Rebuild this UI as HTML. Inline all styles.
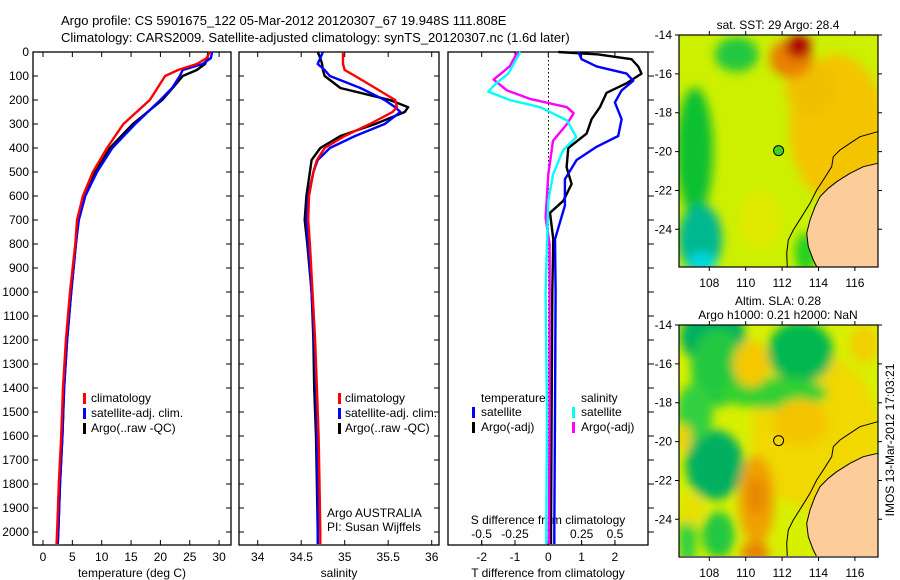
<!DOCTYPE html>
<html><head><meta charset="utf-8">
<style>
html,body{margin:0;padding:0;background:#fff;}
svg{display:block;font-family:"Liberation Sans",Arial,sans-serif;}
text{font-size:12px;fill:#000;}
</style></head>
<body>
<svg id="fig" width="900" height="580" viewBox="0 0 900 580" xmlns="http://www.w3.org/2000/svg">
<defs>
<filter id="blur1" x="-50%" y="-50%" width="200%" height="200%"><feGaussianBlur stdDeviation="5"/></filter>
<clipPath id="clipTop"><rect x="679" y="35" width="199" height="232"/></clipPath>
<clipPath id="clipBot"><rect x="679" y="325" width="199" height="231"/></clipPath>
</defs>
<text x="61" y="25" style="font-size:13px">Argo profile: CS 5901675_122 05-Mar-2012 20120307_67 19.948S 111.808E</text>
<text x="61" y="42" style="font-size:13px">Climatology: CARS2009. Satellite-adjusted climatology: synTS_20120307.nc (1.6d later)</text>
<g id="plots"></g>
<g id="maps"></g>
<text transform="translate(894,440) rotate(-90)" text-anchor="middle">IMOS 13-Mar-2012 17:03:21</text>
</svg>
<script>
// ---------- data ----------
const depthTicks = [0,100,200,300,400,500,600,700,800,900,1000,1100,1200,1300,1400,1500,1600,1700,1800,1900,2000];
const tempTicks = [0,5,10,15,20,25,30];
const salTicks = [34,34.5,35,35.5,36];
const salTickLabels = ["34","34.5","35","35.5","36"];
const tdTicks = [-2,-1,0,1,2];
const sdTicks = [-0.5,-0.25,0,0.25,0.5];
const sdTickLabels = ["-0.5","-0.25","0","0.25","0.5"];

const tDepth = [0,25,50,75,100,150,200,300,400,500,600,700,800,1000,1200,1400,1600,1800,2000,2050];
const tClim  = [28.4,27.9,26.2,23.0,20.8,19.5,18.2,13.7,10.9,8.5,6.8,5.8,5.5,4.6,3.9,3.4,3.1,2.7,2.4,2.3];
const tSat   = [28.8,28.6,27.2,23.8,23.3,22.0,20.0,15.7,11.8,9.2,7.2,6.1,5.6,4.8,4.1,3.6,3.3,2.9,2.6,2.5];
const tArgo  = [28.2,28.0,27.6,26.2,23.8,22.1,20.3,15.3,11.4,8.9,7.0,6.0,5.6,4.8,4.1,3.6,3.3,2.9,2.6,2.5];

const sDepth = [0,25,50,75,100,150,200,230,250,300,350,400,450,500,600,700,800,1000,1200,1400,1600,1800,2000,2050];
const sClim  = [34.98,34.98,34.98,35.0,35.12,35.35,35.58,35.6,35.55,35.29,35.0,34.77,34.68,34.64,34.59,34.58,34.6,34.63,34.66,34.68,34.7,34.71,34.72,34.72];
const sSat   = [34.75,34.72,34.69,34.77,34.83,35.18,35.46,35.58,35.64,35.46,35.12,34.83,34.69,34.64,34.58,34.56,34.58,34.62,34.65,34.67,34.68,34.69,34.69,34.69];
const sArgo  = [34.69,34.72,34.74,34.75,34.77,34.95,35.52,35.73,35.69,35.35,34.95,34.72,34.62,34.6,34.56,34.54,34.57,34.62,34.64,34.65,34.67,34.68,34.69,34.69];

const tdArgoDepth = [0,10,30,60,90,130,170,230,280,340,400,480,550,620,670,780,1000,1500,2000,2050];
const tdArgo = [0.3,1.5,2.5,2.7,2.8,2.35,1.75,1.55,1.3,1.15,0.6,0.55,0.7,0.45,0.05,0.15,0.12,0.1,0.08,0.08];
const tdSatDepth = [0,30,60,90,120,160,210,280,350,395,450,530,640,780,1000,1500,2000,2050];
const tdSat = [0.9,1.0,1.45,2.35,2.55,2.2,2.0,2.2,2.1,1.45,0.85,0.5,0.5,0.2,0.22,0.2,0.18,0.18];
const sdSatDepth = [0,30,90,130,165,200,230,285,355,410,510,620,800,1000,1500,2000,2050];
const sdSat = [-0.21,-0.24,-0.3,-0.39,-0.45,-0.29,-0.06,0.14,0.21,0.11,0.035,0.0,-0.01,-0.02,-0.01,-0.015,-0.015];
const sdArgoDepth = [0,60,115,160,195,230,255,300,370,510,690,800,1000,1500,2000,2050];
const sdArgo = [-0.23,-0.29,-0.41,-0.31,-0.14,0.14,0.19,0.14,0.035,0.0,-0.02,0.01,0.01,0.01,0.005,0.005];

// ---------- helpers ----------
const NS = "http://www.w3.org/2000/svg";
const plots = document.getElementById('plots');
function mk(tag, attrs, parent){ const e=document.createElementNS(NS,tag); for(const k in attrs) e.setAttribute(k,attrs[k]); (parent||plots).appendChild(e); return e; }
const Y0=52, YB=545;
function yD(d){ return Y0 + d*0.24; }

function panel(x0,x1,name){
  const r = mk('rect',{x:x0,y:Y0,width:x1-x0,height:YB-Y0,fill:'none',stroke:'#000','stroke-width':1.3});
  
  
}
function line(xs,ds,fx,color,name,w){
  const pts = xs.map((v,i)=>fx(v).toFixed(1)+','+yD(ds[i]).toFixed(1)).join(' ');
  const p = mk('polyline',{points:pts,fill:'none',stroke:color,'stroke-width':w||2.4,'stroke-linejoin':'round'});
  
  
}
function txt(x,y,s,anchor,name,size){
  const t = mk('text',{x:x,y:y,'text-anchor':anchor||'start'});
  if(size) t.style.fontSize=size+'px';
  t.textContent=s;
  
  
  return t;
}
function tickLine(x1,y1,x2,y2){ mk('path',{d:`M${x1},${y1}L${x2},${y2}`,stroke:'#000','stroke-width':1}); }

// ---------- panel 1: temperature ----------
const xT = v => 43 + v*5.87;
panel(33,231,'temperature-panel');
depthTicks.forEach(d=>{ const y=yD(d); tickLine(33,y,38,y); tickLine(226,y,231,y); txt(29,y+4,String(d),'end','depth-tick-label'); });
tempTicks.forEach(v=>{ const x=xT(v); tickLine(x,YB,x,YB-5); tickLine(x,Y0,x,Y0+5); txt(x,561,String(v),'middle','temperature-tick-label'); });
txt(132,577,'temperature (deg C)','middle','temperature-axis-title');
line(tArgo,tDepth,xT,'#000','temperature-argo-line');
line(tSat,tDepth,xT,'#0000ff','temperature-satellite-line');
line(tClim,tDepth,xT,'#ff0000','temperature-climatology-line');
[['#ff0000','climatology'],['#0000ff','satellite-adj. clim.'],['#000','Argo(..raw -QC)']].forEach((l,i)=>{
  const y=402+i*15; mk('rect',{x:83,y:y-9,width:3,height:11,fill:l[0]}); txt(91,y,l[1],'start','temperature-legend-entry');
});

// ---------- panel 2: salinity ----------
const xS = v => 257.7 + (v-34)*87;
panel(239,439,'salinity-panel');
depthTicks.forEach(d=>{ const y=yD(d); tickLine(239,y,244,y); tickLine(434,y,439,y); });
salTicks.forEach((v,i)=>{ const x=xS(v); tickLine(x,YB,x,YB-5); tickLine(x,Y0,x,Y0+5); txt(x,561,salTickLabels[i],'middle','salinity-tick-label'); });
txt(339,577,'salinity','middle','salinity-axis-title');
line(sArgo,sDepth,xS,'#000','salinity-argo-line');
line(sSat,sDepth,xS,'#0000ff','salinity-satellite-line');
line(sClim,sDepth,xS,'#ff0000','salinity-climatology-line');
[['#ff0000','climatology'],['#0000ff','satellite-adj. clim.'],['#000','Argo(..raw -QC)']].forEach((l,i)=>{
  const y=402+i*15; mk('rect',{x:338,y:y-9,width:3,height:11,fill:l[0]}); txt(345,y,l[1],'start','salinity-legend-entry');
});
txt(327,517,'Argo AUSTRALIA','start','argo-agency-label');
txt(327,531,'PI: Susan Wijffels','start','argo-pi-label');

// ---------- panel 3: differences ----------
const xTd = v => 548.3 + v*33.3;
const xSd = v => 548.3 + v*133.3;
panel(448,648,'difference-panel');
depthTicks.forEach(d=>{ const y=yD(d); tickLine(648,y,654,y); });
for(let y=Y0;y<YB;y+=4){ mk('rect',{x:548,y:y,width:1,height:1.5,fill:'#000'}); }
tdTicks.forEach(v=>{ const x=xTd(v); tickLine(x,YB,x,YB-5); tickLine(x,Y0,x,Y0+5); txt(x,561,String(v),'middle','t-difference-tick-label'); });
sdTicks.forEach((v,i)=>{ const x=xSd(v); tickLine(x,YB,x,YB-4); txt(x,538,sdTickLabels[i],'middle','s-difference-tick-label'); });
txt(548,577,'T difference from climatology','middle','t-difference-axis-title');
txt(548,524,'S difference from climatology','middle','s-difference-axis-title');
line(tdArgo,tdArgoDepth,xTd,'#000','t-difference-argo-line');
line(tdSat,tdSatDepth,xTd,'#0000ff','t-difference-satellite-line');
line(sdArgo,sdArgoDepth,xSd,'#ff00ff','s-difference-argo-line');
line(sdSat,sdSatDepth,xSd,'#00ffff','s-difference-satellite-line');
txt(481,402,'temperature','start','legend-temperature-heading');
txt(581,402,'salinity','start','legend-salinity-heading');
[['#0000ff','satellite',472],['#000','Argo(-adj)',472],['#00ffff','satellite',572],['#ff00ff','Argo(-adj)',572]].forEach((l,i)=>{
  const y=416+(i%2)*15; mk('rect',{x:l[2],y:y-9,width:3,height:11,fill:l[0]}); txt(l[2]+9,y,l[1],'start','difference-legend-entry');
});

// ---------- maps ----------
const maps = document.getElementById('maps');
function mx(lon){ return 709.3 + (lon-108)*18.2; }
const lonTicks=[108,110,112,114,116];
const latTicks=[-14,-16,-18,-20,-22,-24];
const landZ=[[683,490],[640,500],[600,520],[560,545],[535,565],[510,590],[495,620],[480,660],[470,700],[475,740],[490,780],[500,800]];
const shelfZ=[[683,395],[630,410],[600,430],[570,450],[550,470],[545,500],[520,540],[500,570],[480,610],[455,650],[430,690],[415,720],[410,760],[412,800]];
const sstBlobs=[
 [115,-18.8,2.6,3.8,'#f4c400'],[113.6,-16.8,1.4,1.4,'#f0c000'],[112.5,-15.2,1.2,1,'#e88000'],[112.9,-14.6,0.7,0.6,'#b00000'],
 [107.2,-20,1.0,3.3,'#10c030'],[107.5,-24.5,1.2,1.8,'#00b890'],[107.6,-25.7,0.8,0.5,'#00d8e0'],
 [109.5,-15,1.2,0.9,'#20c840'],[110.8,-23.5,1.2,1.5,'#e0ea00'],[113.3,-25.2,0.6,1,'#20d020']
];
const slaBlobs=[
 [113.8,-19.5,3.5,4,'#f0d800'],[108.2,-14.6,1.8,1.5,'#00b060'],[108.5,-16.2,1.5,2,'#20c840'],[113,-15.4,1.8,1.6,'#00b850'],[111.5,-17.5,3,0.8,'#30d030'],
 [108.3,-21.2,1.6,1.8,'#00b060'],[107.2,-18.5,1,1.5,'#30d040'],[108.5,-24.8,0.9,1.2,'#20c840'],[106.8,-25,0.5,1.5,'#30d040'],
 [110.3,-16,1,1.2,'#f6c800'],[110.6,-23,1,2.3,'#f0a000'],[110.6,-22.8,0.5,1,'#e68800'],[110.5,-25.7,0.8,0.5,'#e88000'],[113,-19,1.5,1.2,'#f4c400'],
 [106.6,-19.8,0.4,0.7,'#f0d000'],[107,-23.5,0.7,0.8,'#e8e000'],[116.5,-15,0.8,1,'#f0d000']
];
function drawMap(top, blobs, base, title1, title2, circleFill, name){
  const g = mk('g',{'clip-path':'url(#'+(top<100?'clipTop':'clipBot')+')'},maps);
  
  
  const my = lat => top + (-14-lat)*19.43;
  mk('rect',{x:679,y:top,width:199,height:232,fill:base},g);
  const bg = mk('g',{filter:'url(#blur1)'},g);
  blobs.forEach(b=>{ mk('ellipse',{cx:mx(b[0]),cy:my(b[1]),rx:b[2]*18.2,ry:b[3]*19.43,fill:b[4]},bg); });
  const land = landZ.map(p=>(650+p[0]/3).toFixed(1)+','+(top-35+p[1]/3).toFixed(1)).join(' ')+' 880,'+(top+240)+' 880,'+(top+128);
  const lp = mk('polygon',{points:land,fill:'#fccc9a',stroke:'#000','stroke-width':1},g);
  
  
  mk('polyline',{points:shelfZ.map(p=>(650+p[0]/3).toFixed(1)+','+(top-35+p[1]/3).toFixed(1)).join(' '),fill:'none',stroke:'#000','stroke-width':1},g);
  const fr = mk('rect',{x:679,y:top,width:199,height:232,fill:'none',stroke:'#000','stroke-width':1.2},maps);
  
  
  lonTicks.forEach(l=>{ const x=mx(l); mk('path',{d:`M${x},${top}v-4M${x},${top+232}v4`,stroke:'#000'},maps);
    const t=mk('text',{x:x,y:top+252,'text-anchor':'middle'},maps); t.textContent=String(l);
      });
  latTicks.forEach(l=>{ const y=my(l); mk('path',{d:`M679,${y}h-4M878,${y}h4`,stroke:'#000'},maps);
    const t=mk('text',{x:672,y:y+4,'text-anchor':'end'},maps); t.textContent=String(l);
      });
  const c = mk('circle',{cx:mx(111.808),cy:my(-19.948),r:5,fill:circleFill,stroke:'#000','stroke-width':1},maps);
  
  
  if(title1){ const t=mk('text',{x:778,y:top-(title2?20:6),'text-anchor':'middle'},maps); t.textContent=title1;
      }
  if(title2){ const t=mk('text',{x:778,y:top-6,'text-anchor':'middle'},maps); t.textContent=title2;
      }
}
drawMap(35, sstBlobs, '#ccf000', 'sat. SST: 29 Argo: 28.4', null, '#40d020', 'sst-map');
drawMap(325, slaBlobs, '#d8f000', 'Altim. SLA: 0.28', 'Argo h1000: 0.21 h2000: NaN', 'none', 'sla-map');
</script>
</body></html>
